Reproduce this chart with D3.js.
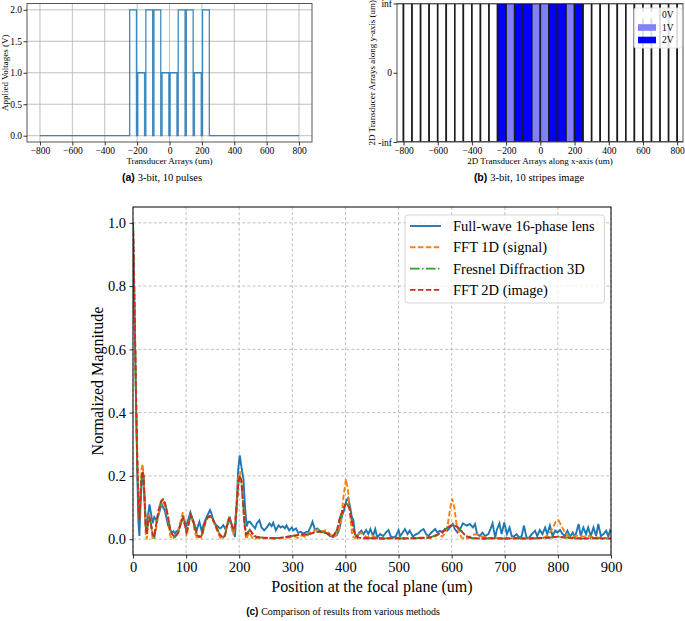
<!DOCTYPE html>
<html><head><meta charset="utf-8">
<script src="https://cdn.jsdelivr.net/npm/d3@7"></script>
<style>
body{margin:0;background:#fff}
svg{display:block}
</style>
</head><body>
<svg id="fig" width="685" height="621" font-family="Liberation Serif, Times New Roman, serif"></svg>
<script>
// ---------- data ----------
const pulseCenters = [-225,-175,-125,-75,-25,25,75,125,175,225];
const pulseValues  = [2,1,2,2,1,1,2,2,1,2];
const pulseWidth = 42;
const xTicksAB = [-800,-600,-400,-200,0,200,400,600,800];
const yTicksA  = [0,0.5,1,1.5,2];
const stripeStarts = [-850,-800,-750,-700,-650,-600,-550,-500,-450,-400,-350,-300,
  -250,-200,-150,-100,-50,0,50,100,150,200,
  250,300,350,400,450,500,550,600,650,700,750,800];
const stripeVolts = [0,0,0,0,0,0,0,0,0,0,0,0,
  2,1,2,2,1,1,2,2,1,2,
  0,0,0,0,0,0,0,0,0,0,0,0];
const stripeWidth = 50;
const voltLabels = ["0V","1V","2V"];
const voltColors = ["#ffffff","#8080ff","#0000ff"];
const yTicksB = [1,0,-1];
const yTickLabelsB = ["inf","0","-inf"];

const xTicksC = [0,100,200,300,400,500,600,700,800,900];
const yTicksC = [0,0.2,0.4,0.6,0.8,1.0];
const seriesNames = ["Full-wave 16-phase lens","FFT 1D (signal)","Fresnel Diffraction 3D","FFT 2D (image)"];

const fullWave = [[0,1.0],[2,0.8],[4,0.6],[6,0.4],[8,0.22],[10,0.06],[12,0.01],[14,0.1],[16,0.17],[18,0.19],[20,0.18],[22,0.12],[24,0.05],[26,0.02],[28,0.07],[31,0.11],[34,0.08],[37,0.05],[40,0.07],[44,0.06],[48,0.076],[52,0.1],[55,0.107],[60,0.09],[66,0.044],[70,0.03],[73,0.02],[76,0.025],[79,0.018],[82,0.025],[85,0.028],[89,0.045],[92,0.06],[96,0.065],[100,0.04],[104,0.062],[108,0.085],[111,0.07],[114,0.055],[117,0.04],[120,0.028],[123,0.045],[125,0.055],[129,0.028],[133,0.045],[136,0.06],[140,0.075],[145,0.092],[148,0.08],[151,0.06],[154,0.05],[157,0.044],[160,0.04],[164,0.034],[167,0.038],[170,0.044],[173,0.035],[176,0.04],[180,0.055],[183,0.065],[186,0.045],[189,0.023],[192,0.007],[195,0.1],[198,0.22],[201,0.265],[204,0.23],[208,0.19],[211,0.1],[214,0.04],[217,0.055],[220,0.055],[225,0.044],[230,0.034],[233,0.05],[238,0.06],[242,0.037],[247,0.028],[252,0.037],[257,0.05],[261,0.041],[264,0.052],[269,0.028],[274,0.044],[278,0.037],[282,0.041],[286,0.034],[289,0.044],[294,0.028],[299,0.037],[302,0.028],[307,0.034],[311,0.02],[316,0.023],[321,0.018],[326,0.023],[330,0.023],[335,0.041],[338,0.055],[343,0.028],[347,0.034],[352,0.026],[358,0.023],[365,0.018],[371,0.01],[377,0.007],[384,0.013],[389,0.034],[393,0.07],[397,0.09],[402,0.123],[405,0.13],[409,0.1],[412,0.07],[415,0.06],[418,0.016],[422,0.005],[426,0.021],[430,0.027],[434,0.016],[439,0.029],[443,0.016],[447,0.032],[452,0.01],[456,0.032],[460,0.005],[465,0.016],[471,0.01],[476,0.021],[481,0.029],[485,0.01],[490,0.005],[495,0.01],[500,0.029],[503,0.01],[508,0.021],[512,0.032],[517,0.016],[521,0.027],[527,0.008],[531,0.014],[537,0.018],[542,0.027],[547,0.032],[552,0.016],[556,0.01],[562,0.021],[569,0.032],[573,0.021],[578,0.027],[583,0.021],[587,0.032],[592,0.027],[597,0.037],[602,0.048],[606,0.032],[611,0.021],[616,0.032],[621,0.05],[625,0.046],[629,0.043],[634,0.048],[640,0.037],[644,0.048],[648,0.016],[653,0.01],[658,0.021],[663,0.01],[669,0.016],[673,0.032],[677,0.05],[682,0.005],[685,0.029],[690,0.05],[694,0.016],[699,0.053],[704,0.016],[709,0.037],[713,0.01],[717,0.008],[722,0.016],[727,0.005],[732,0.01],[736,0.043],[741,0.005],[746,0.005],[751,0.016],[757,0.027],[761,0.01],[766,0.029],[771,0.016],[776,0.037],[780,0.016],[785,0.043],[790,0.01],[795,0.027],[799,0.021],[804,0.029],[809,0.016],[813,0.01],[818,0.027],[823,0.008],[828,0.021],[832,0.005],[839,0.048],[843,0.01],[848,0.037],[853,0.016],[857,0.037],[862,0.01],[867,0.037],[872,0.01],[876,0.048],[881,0.01],[886,0.016],[891,0.027],[895,0.008],[898,0.027],[900,0.02]];

const fft1D = [[0,1.0],[2,0.83],[4,0.64],[6,0.44],[8,0.27],[10,0.14],[12,0.06],[14,0.15],[16,0.22],[18,0.237],[20,0.2],[22,0.1],[24,0.01],[26,0.0],[28,0.05],[31,0.08],[34,0.05],[37,0.0],[40,0.0],[44,0.04],[48,0.08],[53,0.11],[57,0.12],[61,0.1],[66,0.06],[70,0.01],[74,0.0],[79,0.01],[85,0.025],[90,0.06],[94,0.085],[98,0.04],[101,0.01],[105,0.05],[109,0.08],[113,0.05],[117,0.02],[121,0.0],[125,0.01],[129,0.005],[133,0.03],[137,0.055],[141,0.068],[145,0.07],[150,0.06],[154,0.045],[159,0.025],[164,0.005],[169,0.0],[173,0.015],[177,0.05],[181,0.07],[185,0.04],[189,0.015],[192,0.05],[195,0.12],[198,0.19],[201,0.215],[204,0.19],[207,0.12],[210,0.04],[213,0.0],[216,0.012],[220,0.022],[224,0.005],[228,0.0],[235,0.005],[245,0.002],[255,0.004],[265,0.002],[275,0.004],[285,0.003],[295,0.006],[303,0.01],[310,0.004],[318,0.012],[326,0.006],[333,0.02],[340,0.027],[348,0.03],[356,0.025],[363,0.028],[370,0.018],[376,0.006],[381,0.01],[386,0.02],[392,0.06],[396,0.13],[401,0.19],[405,0.15],[409,0.07],[413,0.01],[418,0.003],[424,0.015],[430,0.02],[436,0.01],[442,0.006],[450,0.012],[458,0.005],[470,0.003],[490,0.004],[510,0.003],[530,0.004],[550,0.006],[560,0.004],[570,0.01],[576,0.016],[582,0.008],[588,0.02],[593,0.05],[597,0.095],[601,0.128],[605,0.1],[609,0.05],[614,0.02],[619,0.005],[625,0.0],[632,0.006],[640,0.014],[648,0.016],[655,0.01],[665,0.004],[680,0.003],[700,0.002],[720,0.003],[740,0.002],[760,0.003],[775,0.006],[783,0.015],[790,0.035],[796,0.055],[801,0.06],[806,0.045],[812,0.025],[818,0.012],[825,0.006],[833,0.01],[840,0.012],[848,0.008],[858,0.01],[868,0.006],[880,0.005],[890,0.004],[900,0.003]];

const fresnel3D = [[0,1.0],[2,0.82],[4,0.62],[6,0.42],[8,0.25],[10,0.12],[12,0.06],[14,0.13],[16,0.19],[18,0.213],[20,0.2],[22,0.12],[24,0.04],[26,0.015],[28,0.05],[31,0.07],[34,0.045],[37,0.015],[40,0.008],[44,0.05],[48,0.09],[53,0.12],[57,0.126],[61,0.11],[66,0.07],[70,0.03],[74,0.015],[79,0.007],[85,0.02],[90,0.05],[94,0.068],[98,0.045],[101,0.025],[105,0.05],[109,0.076],[113,0.06],[117,0.034],[121,0.012],[125,0.007],[129,0.01],[133,0.035],[137,0.06],[141,0.07],[145,0.073],[150,0.065],[154,0.05],[159,0.03],[164,0.013],[169,0.006],[173,0.01],[177,0.04],[181,0.065],[185,0.05],[189,0.03],[192,0.04],[195,0.1],[198,0.17],[201,0.2],[204,0.185],[207,0.12],[210,0.05],[213,0.015],[216,0.02],[220,0.03],[224,0.02],[228,0.01],[235,0.006],[245,0.005],[255,0.004],[265,0.003],[275,0.004],[285,0.006],[295,0.009],[305,0.012],[318,0.015],[328,0.015],[336,0.018],[343,0.023],[352,0.023],[362,0.021],[371,0.014],[377,0.01],[384,0.028],[390,0.07],[396,0.097],[401,0.112],[404,0.11],[408,0.095],[412,0.06],[416,0.025],[420,0.01],[425,0.005],[435,0.003],[450,0.003],[470,0.002],[490,0.003],[510,0.002],[530,0.003],[550,0.004],[560,0.006],[570,0.012],[580,0.02],[590,0.033],[597,0.042],[603,0.045],[610,0.04],[617,0.028],[624,0.015],[632,0.006],[640,0.003],[660,0.002],[680,0.003],[700,0.002],[720,0.003],[740,0.002],[760,0.003],[775,0.004],[790,0.006],[800,0.008],[810,0.006],[825,0.004],[845,0.002],[870,0.003],[900,0.002]];

const fft2D = [[0,1.0],[2,0.82],[4,0.62],[6,0.42],[8,0.25],[10,0.12],[12,0.06],[14,0.13],[16,0.19],[18,0.215],[20,0.2],[22,0.12],[24,0.04],[26,0.015],[28,0.05],[31,0.07],[34,0.045],[37,0.015],[40,0.008],[44,0.05],[48,0.09],[53,0.12],[57,0.127],[61,0.11],[66,0.07],[70,0.03],[74,0.015],[79,0.007],[85,0.02],[90,0.05],[94,0.068],[98,0.045],[101,0.025],[105,0.05],[109,0.076],[113,0.06],[117,0.034],[121,0.012],[125,0.007],[129,0.01],[133,0.035],[137,0.06],[141,0.07],[145,0.073],[150,0.065],[154,0.05],[159,0.03],[164,0.013],[169,0.006],[173,0.01],[177,0.04],[181,0.065],[185,0.05],[189,0.03],[192,0.04],[195,0.1],[198,0.17],[201,0.2],[204,0.185],[207,0.12],[210,0.05],[213,0.015],[216,0.02],[220,0.03],[224,0.02],[228,0.01],[235,0.006],[245,0.005],[255,0.004],[265,0.003],[275,0.004],[285,0.006],[295,0.009],[305,0.012],[318,0.015],[328,0.015],[336,0.018],[343,0.023],[352,0.023],[362,0.021],[371,0.014],[377,0.01],[384,0.028],[390,0.07],[396,0.097],[401,0.113],[404,0.11],[408,0.095],[412,0.06],[416,0.025],[420,0.01],[425,0.005],[435,0.003],[450,0.003],[470,0.002],[490,0.003],[510,0.002],[530,0.003],[550,0.004],[560,0.006],[570,0.012],[580,0.02],[590,0.033],[597,0.042],[603,0.045],[610,0.04],[617,0.028],[624,0.015],[632,0.006],[640,0.003],[660,0.002],[680,0.003],[700,0.002],[720,0.003],[740,0.002],[760,0.003],[775,0.004],[790,0.006],[800,0.008],[810,0.006],[825,0.004],[845,0.002],[870,0.003],[900,0.002]];

const seriesData = [fullWave, fft1D, fresnel3D, fft2D];
const seriesColors = ["#1f77b4","#ff7f0e","#2ca02c","#d62728"];
const seriesDash = [null,"5.5,2.4","9.6,2.4,1.5,2.4","5.5,2.4"];

// ---------- drawing ----------
const svg = d3.select("#fig");
const SERIF = 'Liberation Serif, Times New Roman, serif';
const SANS = 'Liberation Sans, Arial, sans-serif';

function styleAxis(g, fs){
  g.attr("font-family",SERIF).attr("font-size",fs);
  g.select(".domain").remove();
  g.selectAll("line").attr("stroke","#000").attr("stroke-width",0.8);
  g.selectAll("text").attr("font-family",SERIF).attr("font-size",fs).attr("fill","#000");
}
function label(g, x, y, fs, txt, rot){
  const t = g.append("text").attr("text-anchor","middle").attr("font-family",SERIF)
    .attr("font-size",fs).attr("fill","#000").text(txt);
  if(rot) t.attr("transform",`translate(${x},${y}) rotate(-90)`);
  else t.attr("x",x).attr("y",y);
  return t;
}
function caption(x, y, letter, rest, fs){
  const t = svg.append("text").attr("x",x).attr("y",y).attr("text-anchor","middle").attr("font-size",fs).attr("fill","#000");
  t.append("tspan").attr("font-family",SANS).attr("font-weight","bold").text(letter+" ");
  t.append("tspan").attr("font-family",SERIF).text(rest);
}

// ===== Panel (a) =====
{
  const L=27,R=312,T=3.5,B=142;
  const x = d3.scaleLinear().domain([-880,880]).range([L,R]);
  const y = d3.scaleLinear().domain([-0.1,2.1]).range([B,T]);
  const g = svg.append("g");
  g.append("g").selectAll("line").data(xTicksAB).join("line")
    .attr("x1",d=>x(d)).attr("x2",d=>x(d)).attr("y1",T).attr("y2",B)
    .attr("stroke","#b0b0b0").attr("stroke-width",0.8);
  g.append("g").selectAll("line").data(yTicksA).join("line")
    .attr("y1",d=>y(d)).attr("y2",d=>y(d)).attr("x1",L).attr("x2",R)
    .attr("stroke","#b0b0b0").attr("stroke-width",0.8);
  const pts = [[-800,0]];
  pulseCenters.forEach((c,i)=>{
    const a=c-pulseWidth/2, b=c+pulseWidth/2, v=pulseValues[i];
    pts.push([a,0],[a,v],[b,v],[b,0]);
  });
  pts.push([800,0]);
  g.append("path").datum(pts)
    .attr("d", d3.line().x(d=>x(d[0])).y(d=>y(d[1])))
    .attr("fill","none").attr("stroke","#1f77b4").attr("stroke-width",1.3).attr("stroke-opacity",0.85);
  g.append("rect").attr("x",L).attr("y",T).attr("width",R-L).attr("height",B-T)
    .attr("fill","none").attr("stroke","#555").attr("stroke-width",1);
  const xa = g.append("g").attr("transform",`translate(0,${B})`)
    .call(d3.axisBottom(x).tickValues(xTicksAB).tickFormat(d3.format("d")).tickSize(3.5).tickPadding(2));
  styleAxis(xa, 9.5);
  const ya = g.append("g").attr("transform",`translate(${L},0)`)
    .call(d3.axisLeft(y).tickValues(yTicksA).tickFormat(d3.format(".1f")).tickSize(3.5).tickPadding(1.5));
  styleAxis(ya, 9.5);
  label(g, (L+R)/2, 164, 9, "Transducer Arrays (um)");
  label(g, 7.5, (T+B)/2, 9, "Applied Voltages (V)", true);
  caption(162, 181, "(a)", "3-bit, 10 pulses", 10.5);
}

// ===== Panel (b) =====
{
  const L=397,R=683,T=3.5,B=142;
  const x = d3.scaleLinear().domain([-838,834]).range([L,R]);
  const y = d3.scaleLinear().domain([-1,1]).range([B,T]);
  const g = svg.append("g");
  g.append("clipPath").attr("id","clipB").append("rect").attr("x",L).attr("y",T).attr("width",R-L).attr("height",B-T);
  g.append("g").attr("clip-path","url(#clipB)").selectAll("rect").data(stripeStarts).join("rect")
    .attr("x",d=>x(d)).attr("width",d=>x(d+stripeWidth)-x(d))
    .attr("y",T).attr("height",B-T)
    .attr("fill",(d,i)=>voltColors[stripeVolts[i]])
    .attr("stroke","#1a1a1a").attr("stroke-width",1.6);
  g.append("rect").attr("x",L).attr("y",T).attr("width",R-L).attr("height",B-T)
    .attr("fill","none").attr("stroke","#555").attr("stroke-width",1);
  const xa = g.append("g").attr("transform",`translate(0,${B})`)
    .call(d3.axisBottom(x).tickValues(xTicksAB).tickFormat(d3.format("d")).tickSize(3.5).tickPadding(2));
  styleAxis(xa, 9.5);
  const ya = g.append("g").attr("transform",`translate(${L},0)`)
    .call(d3.axisLeft(y).tickValues(yTicksB).tickFormat((d,i)=>yTickLabelsB[i]).tickSize(3.5).tickPadding(1.5));
  styleAxis(ya, 9.5);
  label(g, (L+R)/2, 164, 9, "2D Transducer Arrays along x-axis (um)");
  label(g, 375, (T+B)/2, 9, "2D Transducer Arrays along y-axis (um)", true);
  const lg = g.append("g");
  lg.append("rect").attr("x",634).attr("y",8).attr("width",48).attr("height",40).attr("rx",2)
    .attr("fill","#fff").attr("fill-opacity",0.85).attr("stroke","#ddd").attr("stroke-width",0.8);
  voltLabels.forEach((lab,i)=>{
    const cy = 15 + i*12.5;
    lg.append("rect").attr("x",638).attr("y",cy-3.3).attr("width",18).attr("height",6.6)
      .attr("fill",voltColors[i]);
    lg.append("text").attr("x",662).attr("y",cy+3.3).attr("font-family",SERIF)
      .attr("font-size",9.5).attr("fill","#000").text(lab);
  });
  caption(529, 181, "(b)", "3-bit, 10 stripes image", 10.5);
}

// ===== Panel (c) =====
{
  const L=133,R=611,T=207,B=555;
  const x = d3.scaleLinear().domain([0,900]).range([L,R]);
  const y = d3.scaleLinear().domain([-0.05,1.05]).range([B,T]);
  const g = svg.append("g");
  g.append("g").selectAll("line").data(xTicksC).join("line")
    .attr("x1",d=>x(d)).attr("x2",d=>x(d)).attr("y1",T).attr("y2",B)
    .attr("stroke","#b0b0b0").attr("stroke-width",0.8).attr("stroke-dasharray","3,2.2");
  g.append("g").selectAll("line").data(yTicksC).join("line")
    .attr("y1",d=>y(d)).attr("y2",d=>y(d)).attr("x1",L).attr("x2",R)
    .attr("stroke","#b0b0b0").attr("stroke-width",0.8).attr("stroke-dasharray","3,2.2");
  g.append("clipPath").attr("id","clipC").append("rect").attr("x",L).attr("y",T).attr("width",R-L).attr("height",B-T);
  const line = d3.line().x(d=>x(d[0])).y(d=>y(d[1]));
  const lg = g.append("g").attr("clip-path","url(#clipC)");
  seriesData.forEach((s,i)=>{
    lg.append("path").datum(s).attr("d",line).attr("fill","none")
      .attr("stroke",seriesColors[i]).attr("stroke-width",1.9)
      .attr("stroke-dasharray",seriesDash[i]);
  });
  g.append("rect").attr("x",L).attr("y",T).attr("width",R-L).attr("height",B-T)
    .attr("fill","none").attr("stroke","#000").attr("stroke-width",1);
  const xa = g.append("g").attr("transform",`translate(0,${B})`)
    .call(d3.axisBottom(x).tickValues(xTicksC).tickFormat(d3.format("d")).tickSize(3.5).tickPadding(3.5));
  styleAxis(xa, 14.5);
  const ya = g.append("g").attr("transform",`translate(${L},0)`)
    .call(d3.axisLeft(y).tickValues(yTicksC).tickFormat(d3.format(".1f")).tickSize(3.5).tickPadding(3.5));
  styleAxis(ya, 14.5);
  label(g, (L+R)/2, 592, 16, "Position at the focal plane (um)");
  label(g, 103, (T+B)/2, 16, "Normalized Magnitude", true);
  const leg = g.append("g");
  leg.append("rect").attr("x",405).attr("y",215).attr("width",199.5).attr("height",88).attr("rx",3)
    .attr("fill","#fff").attr("fill-opacity",0.8).attr("stroke","#ccc").attr("stroke-width",0.8);
  seriesNames.forEach((nm,i)=>{
    const cy = 226 + i*21.3;
    leg.append("line").attr("x1",410).attr("x2",441).attr("y1",cy).attr("y2",cy)
      .attr("stroke",seriesColors[i]).attr("stroke-width",1.9).attr("stroke-dasharray",seriesDash[i]);
    leg.append("text").attr("x",453).attr("y",cy+5).attr("font-family",SERIF)
      .attr("font-size",14.5).attr("fill","#000").text(nm);
  });
  caption(343, 615, "(c)", "Comparison of results from various methods", 10);
}
</script>
</body></html>
